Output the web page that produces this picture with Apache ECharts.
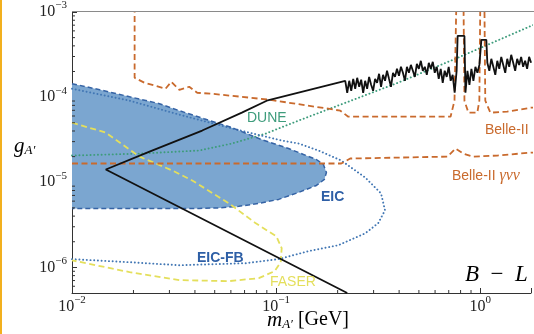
<!DOCTYPE html>
<html><head><meta charset="utf-8">
<script src="https://cdn.jsdelivr.net/npm/echarts@6/dist/echarts.min.js"></script>
<style>html,body{margin:0;padding:0;background:#fff;overflow:hidden}#c{width:534px;height:334px}</style>
</head><body><div id="c"></div>
<script>
// axis ranges / ticks
const xRange = [0.01, 1.77];
const yRange = [5e-7, 1e-3];
const decades = [1e-7, 1e-6, 1e-5, 1e-4, 1e-3, 1e-2, 1e-1, 1];
const minorMult = [2, 3, 4, 5, 6, 7, 8, 9];

// EIC region (filled, dashed outline)
const eicX = [0.01, 0.01368, 0.01915, 0.0268, 0.03355, 0.0443, 0.0607, 0.0849, 0.115, 0.1361, 0.1574, 0.1703, 0.1762, 0.1722, 0.1574, 0.1287, 0.1028, 0.0822, 0.0657, 0.0525, 0.042, 0.01];
const eicY = [1.44e-4, 1.22e-4, 1.01e-4, 8.37e-5, 6.93e-5, 5.58e-5, 4.38e-5, 3.17e-5, 2.49e-5, 2.12e-5, 1.85e-5, 1.616e-5, 1.30e-5, 1.08e-5, 9.17e-6, 7.60e-6, 6.29e-6, 5.65e-6, 5.21e-6, 5.0e-6, 4.93e-6, 4.93e-6];

// EIC-FB (dotted blue)
const fbX = [0.01, 0.01915, 0.03355, 0.0587, 0.1064, 0.1287, 0.161, 0.2083, 0.2727, 0.3263, 0.3411, 0.3155, 0.2727, 0.2014, 0.1439, 0.1028, 0.0710, 0.03355, 0.01915, 0.01];
const fbY = [1.254e-4, 9.08e-5, 6.22e-5, 4.38e-5, 3.09e-5, 2.85e-5, 2.36e-5, 1.80e-5, 1.138e-5, 7.39e-6, 4.68e-6, 3.29e-6, 2.51e-6, 1.82e-6, 1.55e-6, 1.25e-6, 1.12e-6, 1.06e-6, 1.15e-6, 1.25e-6];

// DUNE (dotted teal)
const duneX = [0.01, 0.02142, 0.042, 0.0607, 0.0889, 0.1287, 0.2254, 0.3945, 0.773, 1.77, 2.5];
const duneY = [2.06e-5, 2.17e-5, 2.36e-5, 2.85e-5, 3.73e-5, 5.30e-5, 8.83e-5, 1.475e-4, 2.89e-4, 6.86e-4, 9.8e-4];

// Belle-II gamma nu nu (dashed orange)
const gnnX = [0.01, 0.2083, 0.2304, 0.690, 0.7557, 0.8264, 0.9145, 1.21, 1.77, 2.5];
const gnnY = [1.66e-5, 1.66e-5, 1.90e-5, 2.00e-5, 2.49e-5, 2.17e-5, 2.00e-5, 2.06e-5, 2.23e-5, 2.3e-5];

// Belle-II (dashed orange)
const belleX = [0.02026, 0.02026, 0.02266, 0.02563, 0.0287, 0.03067, 0.03355, 0.0375, 0.04104, 0.04856, 0.092, 0.18, 0.206, 0.2254, 0.7145, 0.747, 0.7637, 0.8264, 0.8357, 0.874, 0.966, 0.9886, 1.0, 1.046, 1.057, 1.119, 1.352, 1.77, 2.5];
const belleY = [1.5e-3, 1.687e-4, 1.475e-4, 1.36e-4, 1.254e-4, 1.514e-4, 1.22e-4, 1.324e-4, 1.125e-4, 1.096e-4, 9.33e-5, 7.31e-5, 6.93e-5, 5.89e-5, 5.89e-5, 9.08e-5, 1.5e-3, 1.5e-3, 9.08e-5, 6.57e-5, 6.57e-5, 9.08e-5, 1.5e-3, 1.5e-3, 9.08e-5, 6.57e-5, 6.75e-5, 7.51e-5, 8.0e-5];

// FASER (dashed yellow)
const faserX = [0.01, 0.01464, 0.02142, 0.031, 0.03879, 0.0587, 0.0795, 0.1002, 0.1064, 0.1052, 0.0983, 0.0822, 0.0587, 0.03355, 0.01915, 0.01];
const faserY = [5.01e-5, 3.83e-5, 2.00e-5, 1.375e-5, 1.05e-5, 5.65e-6, 3.29e-6, 2.32e-6, 1.68e-6, 1.15e-6, 9.03e-7, 7.47e-7, 6.89e-7, 7.08e-7, 8.79e-7, 1.21e-6];

// existing limit (black): V-shape then measured jagged curve
const armX = [0.2228, 0.01464, 0.02397, 0.04341, 0.0679, 0.0899, 0.2179];
const armY = [5.0e-7, 1.413e-5, 2.29e-5, 4.05e-5, 6.57e-5, 9.08e-5, 1.556e-4];
const noiseX = [0.2228,0.2279,0.2331,0.2384,0.2438,0.2493,0.2550,0.2608,0.2667,0.2727,0.2789,0.2852,0.2917,0.2983,0.3051,0.3120,0.3191,0.3263,0.3337,0.3413,0.3490,0.3569,0.3650,0.3733,0.3818,0.3905,0.3993,0.4084,0.4176,0.4271,0.4368,0.4467,0.4568,0.4672,0.4778,0.4886,0.4997,0.5110,0.5226,0.5345,0.5466,0.5590,0.5717,0.5847,0.5979,0.6115,0.6254,0.6396,0.6541,0.6689,0.6841,0.6996,0.7155,0.7317,0.7483,0.7653,0.7739,0.8357,0.8452,0.8643,0.8839,0.9040,0.9245,0.9455,0.9669,0.9888,1.0113,1.0696,1.0817,1.1063,1.1314,1.1571,1.1833,1.2102,1.2376,1.2657,1.2944,1.3238,1.3538,1.3845,1.4159,1.4480,1.4809,1.5145,1.5489,1.5840,1.6200,1.6567,1.6943,1.7328,1.7721];
const noiseY = [1.125e-4,1.556e-4,1.188e-4,1.64e-4,1.254e-4,1.687e-4,1.324e-4,1.60e-4,1.125e-4,1.556e-4,1.254e-4,1.73e-4,1.397e-4,1.188e-4,1.64e-4,1.475e-4,1.88e-4,1.324e-4,1.83e-4,1.556e-4,2.04e-4,1.64e-4,1.324e-4,1.93e-4,1.73e-4,2.15e-4,1.78e-4,2.27e-4,1.93e-4,1.556e-4,2.27e-4,1.93e-4,2.39e-4,2.04e-4,1.73e-4,2.46e-4,2.15e-4,2.67e-4,2.04e-4,2.27e-4,1.83e-4,2.53e-4,2.15e-4,2.60e-4,1.93e-4,2.27e-4,1.64e-4,2.15e-4,1.475e-4,2.04e-4,1.73e-4,2.27e-4,1.556e-4,1.83e-4,1.125e-4,2.04e-4,5.24e-4,5.24e-4,1.125e-4,2.04e-4,1.397e-4,2.15e-4,1.556e-4,2.27e-4,1.93e-4,2.39e-4,4.70e-4,4.70e-4,2.53e-4,2.04e-4,2.82e-4,2.27e-4,1.83e-4,2.67e-4,2.15e-4,2.97e-4,2.39e-4,1.93e-4,2.82e-4,2.27e-4,3.14e-4,2.53e-4,2.04e-4,2.82e-4,2.39e-4,2.97e-4,2.27e-4,2.67e-4,2.15e-4,2.97e-4,2.53e-4];

const pairs = (xs, ys) => xs.map((x, i) => [x, ys[i]]);
const blackData = pairs(armX, armY).concat(pairs(noiseX, noiseY));

const minorVals = [];
decades.forEach(d => minorMult.forEach(m => minorVals.push(d * m)));
const xMinor = minorVals.filter(v => v > xRange[0] && v < xRange[1]);
const yMinor = minorVals.filter(v => v > yRange[0] && v < yRange[1]);

const SERIF = 'Liberation Serif';
function powLabel(v) {
  const l = Math.log10(v), e = Math.round(l);
  if (Math.abs(l - e) > 1e-6) return '';
  return '{b|10}{s|' + (e < 0 ? '\u2212' + (-e) : e) + '}';
}
const labelRich = {
  b: { fontFamily: SERIF, fontSize: 16, color: '#222', lineHeight: 24 },
  s: { fontFamily: SERIF, fontSize: 11, color: '#222', verticalAlign: 'top', lineHeight: 12 }
};

const chart = echarts.init(document.getElementById('c'), null, { renderer: 'canvas' });
const dash = (color, type, width) => ({ color, type, width, cap: 'butt' });
const lineSeries = (name, data, style, z) => ({
  name, type: 'line', data, showSymbol: false, symbol: 'none', smooth: false,
  lineStyle: style, z, silent: true, clip: true
});

chart.setOption({
  animation: false,
  backgroundColor: '#fff',
  grid: { left: 72, top: 11, right: 0, height: 282, show: false },
  xAxis: {
    type: 'log', logBase: 10, min: xRange[0], max: xRange[1],
    axisLine: { show: true, lineStyle: { color: '#333', width: 1 } },
    axisTick: { show: true, inside: true, length: 5, lineStyle: { color: '#333' } },
    splitLine: { show: false },
    axisLabel: { formatter: powLabel, rich: labelRich, margin: 2, showMinLabel: true, showMaxLabel: true, hideOverlap: false }
  },
  yAxis: {
    type: 'log', logBase: 10, min: yRange[0], max: yRange[1],
    axisLine: { show: true, lineStyle: { color: '#333', width: 1 } },
    axisTick: { show: true, inside: true, length: 5, lineStyle: { color: '#333' } },
    splitLine: { show: false },
    axisLabel: { formatter: powLabel, rich: labelRich, margin: 5, showMinLabel: true, showMaxLabel: true, hideOverlap: false }
  },
  series: [
    {
      type: 'custom', name: 'EIC fill', z: 1, silent: true, clip: true,
      data: [[0.1, 1e-5]],
      renderItem: (params, api) => ({
        type: 'polygon',
        shape: { points: eicX.map((x, i) => api.coord([x, eicY[i]])) },
        style: { fill: '#7ba6d0' }
      })
    },
    lineSeries('DUNE', pairs(duneX, duneY), { color: '#3e9c7c', type: [0.1, 3.6], width: 1.9, cap: 'round' }, 3),
    lineSeries('EIC-FB', pairs(fbX, fbY), { color: '#4277b4', type: [0.1, 3.6], width: 1.9, cap: 'round' }, 3),
    lineSeries('EIC', pairs(eicX, eicY), dash('#3563a5', [5, 3], 1.5), 4),
    lineSeries('FASER', pairs(faserX, faserY), dash('#e4df5c', [6, 3.5], 1.8), 4),
    lineSeries('Belle-II gnn', pairs(gnnX, gnnY), dash('#c96a2d', [6, 3.5], 1.8), 5),
    lineSeries('Belle-II', pairs(belleX, belleY), dash('#c96a2d', [6, 3.5], 1.8), 5),
    lineSeries('limit', blackData, { color: '#111', width: 1.8, type: 'solid' }, 6),
    {
      type: 'custom', name: 'xminor', z: 7, silent: true,
      data: xMinor.map(v => [v, yRange[0]]),
      renderItem: (params, api) => {
        const p = api.coord([api.value(0), api.value(1)]);
        return { type: 'line', shape: { x1: p[0], y1: p[1], x2: p[0], y2: p[1] - 3 }, style: { stroke: '#333', lineWidth: 1 } };
      }
    },
    {
      type: 'custom', name: 'yminor', z: 7, silent: true,
      data: yMinor.map(v => [xRange[0], v]),
      renderItem: (params, api) => {
        const p = api.coord([api.value(0), api.value(1)]);
        return { type: 'line', shape: { x1: p[0], y1: p[1], x2: p[0] + 3, y2: p[1] }, style: { stroke: '#333', lineWidth: 1 } };
      }
    }
  ],
  graphic: [
    { type: 'rect', left: 0, top: 0, z: 100, shape: { width: 2, height: 334 }, style: { fill: '#f2b01e' } },
    { type: 'line', z: 100, shape: { x1: 72, y1: 11.5, x2: 534, y2: 11.5 }, style: { stroke: '#8a8a8a', lineWidth: 1 } },
    { type: 'text', z: 100, x: 247, y: 111, style: { text: 'DUNE', fill: '#3e9c7c', font: '14px "Liberation Sans"' } },
    { type: 'text', z: 100, x: 321, y: 190, style: { text: 'EIC', fill: '#2e5fa6', font: 'bold 14px "Liberation Sans"' } },
    { type: 'text', z: 100, x: 197, y: 251, style: { text: 'EIC-FB', fill: '#2e5fa6', font: 'bold 14px "Liberation Sans"' } },
    { type: 'text', z: 100, x: 270, y: 275, style: { text: 'FASER', fill: '#e4df5c', font: '14px "Liberation Sans"' } },
    { type: 'text', z: 100, x: 485, y: 123, style: { text: 'Belle-II', fill: '#c96a2d', font: '14px "Liberation Sans"' } },
    { type: 'text', z: 100, x: 452, y: 168, style: {
      text: '{n|Belle-II }{g|\u03b3\u03bd\u03bd}',
      rich: { n: { fontFamily: 'Liberation Sans', fontSize: 14, fill: '#c96a2d', color: '#c96a2d' },
              g: { fontFamily: SERIF, fontStyle: 'italic', fontSize: 16, fill: '#c96a2d', color: '#c96a2d' } } } },
    { type: 'text', z: 100, x: 465, y: 263, style: {
      text: '{i|B}{n|\u2002\u2212\u2002}{i|L}',
      rich: { i: { fontFamily: SERIF, fontStyle: 'italic', fontSize: 23, color: '#111' },
              n: { fontFamily: SERIF, fontSize: 23, color: '#111' } } } },
    { type: 'text', z: 100, x: 14, y: 135, style: {
      text: '{i|g}{s|A\u2032}',
      rich: { i: { fontFamily: SERIF, fontStyle: 'italic', fontSize: 21, color: '#111', lineHeight: 22 },
              s: { fontFamily: SERIF, fontStyle: 'italic', fontSize: 13, color: '#111', verticalAlign: 'bottom', lineHeight: 13 } } } },
    { type: 'text', z: 100, x: 267, y: 309, style: {
      text: '{i|m}{s|A\u2032}{n| [GeV]}',
      rich: { i: { fontFamily: SERIF, fontStyle: 'italic', fontSize: 21, color: '#111', lineHeight: 22 },
              s: { fontFamily: SERIF, fontStyle: 'italic', fontSize: 13, color: '#111', verticalAlign: 'bottom', lineHeight: 13 },
              n: { fontFamily: SERIF, fontSize: 20, color: '#111', lineHeight: 22 } } } }
  ]
});
</script>
</body></html>
